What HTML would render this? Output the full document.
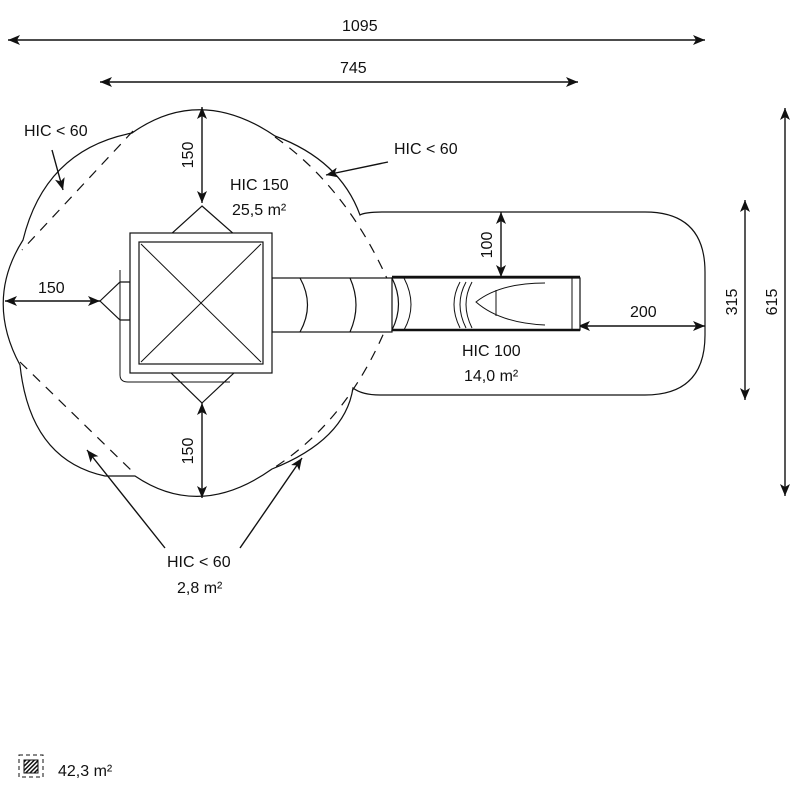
<!DOCTYPE html>
<html><head><style>
body{margin:0;background:#fff}
svg{display:block}
text{font-family:"Liberation Sans",sans-serif;font-size:16px;fill:#111}
</style></head><body>
<svg width="800" height="800" viewBox="0 0 800 800" xmlns="http://www.w3.org/2000/svg">
<defs>
<marker id="a" viewBox="0 0 12 10" refX="12" refY="5" markerWidth="12" markerHeight="10" markerUnits="userSpaceOnUse" orient="auto-start-reverse"><path d="M0,0 L12,5 L0,10 L3,5 z" fill="#111"/></marker>
<pattern id="h" width="3" height="3" patternUnits="userSpaceOnUse" patternTransform="rotate(45)"><rect width="1.5" height="3" fill="#111"/></pattern>
</defs>
<g fill="none" stroke="#111" stroke-width="1.2">
<path d="M132,133 Q200,85 275,136 Q340,160 360,215 Q365,212 385,212 L645,212 Q705,212 705,272 L705,335 Q705,395 645,395 L380,395 Q362,395 353,388 Q345,440 272,469 Q200,520 135,476 L105,476 Q30,460 20,365 Q-15,300 23,240 Q45,150 132,133 Z"/>
<path stroke-dasharray="10,8" d="M133,131 L22,250 M20,362 L135,474 M275,137 Q350,190 392,290 M390,318 Q350,420 272,469"/>
</g>
<g stroke="#111" stroke-width="1.4" fill="none">
<line x1="8" y1="40" x2="705" y2="40" marker-start="url(#a)" marker-end="url(#a)"/>
<line x1="100" y1="82" x2="578" y2="82" marker-start="url(#a)" marker-end="url(#a)"/>
<line x1="202" y1="107" x2="202" y2="203" marker-start="url(#a)" marker-end="url(#a)"/>
<line x1="202" y1="403" x2="202" y2="498" marker-start="url(#a)" marker-end="url(#a)"/>
<line x1="5" y1="301" x2="100" y2="301" marker-start="url(#a)" marker-end="url(#a)"/>
<line x1="501" y1="212" x2="501" y2="277" marker-start="url(#a)" marker-end="url(#a)"/>
<line x1="578" y1="326" x2="705" y2="326" marker-start="url(#a)" marker-end="url(#a)"/>
<line x1="745" y1="200" x2="745" y2="400" marker-start="url(#a)" marker-end="url(#a)"/>
<line x1="785" y1="108" x2="785" y2="496" marker-start="url(#a)" marker-end="url(#a)"/>
<line x1="52" y1="150" x2="63" y2="190" marker-end="url(#a)"/>
<line x1="388" y1="162" x2="326" y2="175" marker-end="url(#a)"/>
<line x1="165" y1="548" x2="87" y2="450" marker-end="url(#a)"/>
<line x1="240" y1="548" x2="302" y2="458" marker-end="url(#a)"/>
</g>
<g fill="#fff" stroke="#111" stroke-width="1.2">
<path d="M202,206 L235,235 L170,235 Z"/>
<path d="M202,403 L235,372 L170,372 Z"/>
<path d="M100,301 L120,282 L130,282 L130,320 L120,320 Z"/>
<path d="M120,270 L120,375 Q120,382 128,382 L230,382" fill="none" stroke-width="1"/>
<rect x="272" y="278" width="120" height="54"/>
<path d="M300,278 Q315,305 300,332 M350,278 Q362,305 350,332" fill="none"/>
<path d="M392,278 L580,278 L580,330 L392,330 Q405,304 392,278 Z" fill="#fff"/>
<line x1="392" y1="277" x2="580" y2="277" stroke-width="2.5"/>
<line x1="392" y1="330" x2="580" y2="330" stroke-width="2.5"/>
<path d="M404,278 Q418,305 404,330 M460,282 Q448,304 460,328 M466,282 Q454,304 466,328 M472,282 Q460,304 472,328 M545,283 Q500,283 476,302 Q500,323 545,325 M496,290 L496,316 M572,278 L572,330" fill="none" stroke-width="1"/>
<rect x="130" y="233" width="142" height="140"/>
<rect x="139" y="242" width="124" height="122"/>
<path d="M139,242 L263,242 M139,364 L263,364 M141,244 L261,362 M261,244 L141,362" fill="none" stroke-width="1"/>
</g>
<g>
<text x="342" y="31">1095</text>
<text x="340" y="73">745</text>
<text x="24" y="136">HIC &lt; 60</text>
<text x="394" y="154">HIC &lt; 60</text>
<text x="230" y="190">HIC 150</text>
<text x="232" y="215">25,5 m²</text>
<text x="38" y="293">150</text>
<text x="630" y="317">200</text>
<text x="462" y="356">HIC 100</text>
<text x="464" y="381">14,0 m²</text>
<text x="167" y="567">HIC &lt; 60</text>
<text x="177" y="593">2,8 m²</text>
<text x="58" y="776">42,3 m²</text>
<text transform="translate(193,155) rotate(-90)" text-anchor="middle">150</text>
<text transform="translate(193,451) rotate(-90)" text-anchor="middle">150</text>
<text transform="translate(492,245) rotate(-90)" text-anchor="middle">100</text>
<text transform="translate(737,302) rotate(-90)" text-anchor="middle">315</text>
<text transform="translate(777,302) rotate(-90)" text-anchor="middle">615</text>
</g>
<rect x="19" y="755" width="24" height="22" fill="none" stroke="#111" stroke-dasharray="4,3"/>
<rect x="24" y="760" width="14" height="13" fill="url(#h)" stroke="#111"/>
</svg>
</body></html>
